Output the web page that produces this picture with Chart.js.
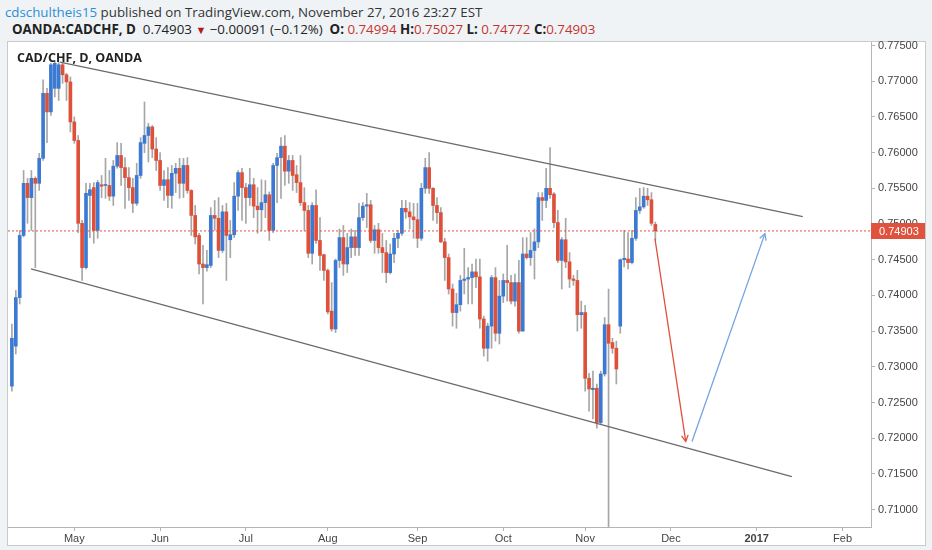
<!DOCTYPE html>
<html><head><meta charset="utf-8">
<script src="https://cdn.jsdelivr.net/npm/chart.js@4.4.0/dist/chart.umd.min.js"></script>
<style>
html,body{margin:0;padding:0;background:#f0f3f6;width:932px;height:550px;overflow:hidden;font-family:"Open Sans",sans-serif}
#h1{position:absolute;left:5px;top:3px;font-size:13.3px;color:#333;white-space:nowrap}
#h2{position:absolute;left:12px;top:20px;font-size:13.3px;color:#222;white-space:nowrap}
#h1 .u{color:#2b8fd6}
#h2 .r{color:#c3332f}
#h2 .t{color:#b01c1c;font-size:11px}
#panel{position:absolute;left:7px;top:41px;width:917px;height:503px;background:#fff;border:1px solid #c8cacc}
#wrap{position:absolute;left:0;top:0;width:932px;height:550px}
#legend{position:absolute;left:17px;top:49px;font-weight:bold;font-size:12.5px;color:#222}
</style>
</head><body>
<div id="h1"><span class="u">cdschultheis15</span> published on TradingView.com, November 27, 2016 23:27 EST</div>
<div id="h2"><b>OANDA:CADCHF, D</b>&nbsp; 0.74903 <span class="t">▼</span> −0.00091 (−0.12%) &nbsp;<b>O:</b> <span class="r">0.74994</span> <b>H:</b><span class="r">0.75027</span> <b>L:</b> <span class="r">0.74772</span> <b>C:</b><span class="r">0.74903</span></div>
<div id="panel"></div>
<div id="wrap"><canvas id="c" width="932" height="550"></canvas></div>
<div id="legend">CAD/CHF, D, OANDA</div>
<script>
const opens = [
.7273,.7329,.7397,.7484,.7557,.7537,.7564,.7557,.7592,.7683,
.7657,.7690,.7690,.7723,.7709,.7699,.7643,.7617,.7501,.7439,
.7540,.7551,.7491,.7555,.7554,.7554,.7539,.7581,.7596,.7579,
.7565,.7551,.7529,.7568,.7613,.7624,.7636,.7605,.7589,.7554,
.7562,.7540,.7571,.7578,.7557,.7582,.7547,.7512,.7484,.7444,
.7439,.7442,.7512,.7508,.7463,.7517,.7478,.7485,.7539,.7572,
.7551,.7537,.7555,.7525,.7520,.7530,.7541,.7491,.7582,.7593,
.7609,.7574,.7589,.7569,.7558,.7530,.7519,.7459,.7526,.7477,
.7457,.7435,.7378,.7353,.7449,.7481,.7444,.7467,.7482,.7467,
.7509,.7525,.7527,.7477,.7492,.7467,.7460,.7432,.7458,.7480,
.7487,.7522,.7517,.7510,.7506,.7480,.7550,.7579,.7550,.7526,
.7516,.7475,.7453,.7409,.7376,.7387,.7421,.7423,.7425,.7433,
.7426,.7367,.7326,.7357,.7425,.7347,.7399,.7421,.7418,.7392,
.7418,.7350,.7458,.7453,.7463,.7475,.7537,.7533,.7550,.7542,
.7502,.7449,.7478,.7447,.7423,.7421,.7373,.7376,.7284,.7268,
.7270,.7222,.7290,.7359,.7334,.7326,.7357,.7450,.7451,.7446,
.7480,.7519,.7524,.7539,.7534,.74994];
const highs = [
.7360,.7407,.7491,.7575,.7564,.7575,.7566,.7599,.7702,.7690,
.7725,.7728,.7726,.7726,.7711,.7706,.7650,.7624,.7505,.7557,
.7557,.7558,.7561,.7568,.7592,.7575,.7589,.7614,.7613,.7593,
.7579,.7564,.7585,.7621,.7671,.7641,.7638,.7621,.7600,.7575,
.7579,.7582,.7585,.7592,.7592,.7593,.7548,.7526,.7487,.7470,
.7463,.7523,.7533,.7537,.7526,.7529,.7505,.7558,.7575,.7578,
.7557,.7578,.7564,.7551,.7562,.7561,.7545,.7585,.7599,.7621,
.7624,.7596,.7596,.7582,.7596,.7551,.7526,.7530,.7548,.7509,
.7458,.7437,.7418,.7451,.7493,.7498,.7487,.7493,.7491,.7529,
.7530,.7543,.7533,.7498,.7501,.7487,.7477,.7472,.7487,.7491,
.7533,.7533,.7530,.7529,.7529,.7557,.7592,.7600,.7551,.7537,
.7523,.7480,.7458,.7416,.7403,.7428,.7466,.7439,.7444,.7451,
.7451,.7371,.7361,.7428,.7439,.7421,.7430,.7470,.7428,.7430,
.7449,.7481,.7481,.7488,.7493,.7544,.7544,.7578,.7607,.7544,
.7519,.7481,.7508,.7460,.7428,.7435,.7392,.7386,.7291,.7294,
.7276,.7294,.7369,.7409,.7340,.7336,.7451,.7491,.7488,.7491,
.7537,.7550,.7551,.7550,.7544,.75027];
const lows = [
.7266,.7318,.7388,.7482,.7501,.7491,.7439,.7547,.7589,.7614,
.7652,.7678,.7673,.7697,.7673,.7629,.7613,.7488,.7421,.7437,
.7481,.7473,.7480,.7537,.7536,.7533,.7526,.7578,.7554,.7522,
.7533,.7516,.7526,.7564,.7600,.7587,.7593,.7575,.7547,.7533,
.7523,.7522,.7544,.7536,.7537,.7543,.7484,.7472,.7430,.7388,
.7434,.7439,.7491,.7453,.7460,.7421,.7453,.7481,.7519,.7505,
.7501,.7526,.7509,.7487,.7491,.7509,.7477,.7488,.7530,.7536,
.7554,.7557,.7547,.7544,.7526,.7491,.7453,.7444,.7473,.7435,
.7421,.7374,.7350,.7348,.7439,.7428,.7432,.7453,.7456,.7456,
.7505,.7495,.7474,.7459,.7459,.7432,.7418,.7430,.7446,.7467,
.7484,.7508,.7493,.7480,.7467,.7477,.7543,.7543,.7505,.7501,
.7474,.7421,.7402,.7357,.7354,.7378,.7402,.7388,.7388,.7411,
.7354,.7315,.7308,.7326,.7336,.7332,.7390,.7392,.7388,.7385,
.7347,.7350,.7451,.7442,.7423,.7467,.7505,.7523,.7536,.7495,
.7446,.7409,.7439,.7411,.7414,.7350,.7354,.7266,.7238,.7227,
.7214,.7220,.7287,.7000,.7319,.7276,.7347,.7440,.7437,.7444,
.7477,.7515,.7522,.7526,.7498,.74772];
const closes = [
.7340,.7397,.7484,.7557,.7537,.7564,.7557,.7592,.7683,.7657,
.7723,.7725,.7723,.7709,.7699,.7643,.7617,.7501,.7439,.7543,
.7548,.7491,.7558,.7553,.7555,.7539,.7581,.7596,.7579,.7565,
.7551,.7529,.7568,.7614,.7624,.7636,.7605,.7589,.7554,.7562,
.7540,.7571,.7578,.7557,.7582,.7547,.7512,.7482,.7444,.7439,
.7443,.7512,.7508,.7463,.7517,.7484,.7485,.7539,.7572,.7551,
.7537,.7555,.7525,.7520,.7530,.7541,.7491,.7582,.7593,.7609,
.7574,.7589,.7568,.7558,.7530,.7519,.7459,.7526,.7477,.7456,
.7435,.7377,.7353,.7449,.7481,.7444,.7467,.7482,.7467,.7509,
.7525,.7527,.7477,.7492,.7467,.7460,.7432,.7458,.7480,.7487,
.7522,.7517,.7510,.7506,.7480,.7550,.7579,.7550,.7526,.7516,
.7475,.7453,.7409,.7376,.7387,.7421,.7423,.7425,.7433,.7426,
.7367,.7326,.7357,.7425,.7347,.7399,.7421,.7418,.7392,.7418,
.7350,.7458,.7453,.7463,.7475,.7537,.7533,.7550,.7541,.7502,
.7449,.7478,.7447,.7423,.7421,.7373,.7376,.7284,.7269,.7270,
.7222,.7290,.7359,.7333,.7326,.7297,.7450,.7452,.7446,.7480,
.7519,.7524,.7539,.7534,.7501,.74903];

const monthTickIdx = [16, 38, 60, 81, 104, 126, 147, 169, 191, 213];
const monthLabels = ["May","Jun","Jul","Aug","Sep","Oct","Nov","Dec","2017","Feb"];
const priceTicks = [0.710,0.715,0.720,0.725,0.730,0.735,0.740,0.745,0.750,0.755,0.760,0.765,0.770,0.775];
const lastPrice = 0.74903;
const upperChannel = [[12.3, 0.77268],[202.8, 0.75104]];
const lowerChannel = [[4.9, 0.74373],[200.0, 0.71463]];
const redArrow = [[164.9, 0.74794],[172.8, 0.71955]];
const blueArrow = [[174.4, 0.71955],[193.1, 0.74865]];

const X_MIN = -1, X_MAX = 220.3, Y_MIN = 0.70757, Y_MAX = 0.77549;
const UP = '#3b79d3', DOWN = '#df5039', WICK = '#a6a6a6';

const idx = opens.map((_, i) => i);
const wickData = idx.map(i => ({x: i, y: [lows[i], highs[i]]}));
const bodyData = idx.map(i => ({x: i, y: [opens[i], closes[i]]}));
const bodyColors = idx.map(i => closes[i] >= opens[i] ? UP : DOWN);
const pts = arr => arr.map(p => ({x: p[0], y: p[1]}));

const overlay = {
  id: 'overlay',
  afterDatasetsDraw(chart) {
    const {ctx, scales: {x, y}} = chart;
    function head(seg, color) {
      const x0 = x.getPixelForValue(seg[0][0]), y0 = y.getPixelForValue(seg[0][1]);
      const x1 = x.getPixelForValue(seg[1][0]), y1 = y.getPixelForValue(seg[1][1]);
      const a = Math.atan2(y1 - y0, x1 - x0), L = 7, w = 0.5;
      ctx.save();
      ctx.strokeStyle = color; ctx.lineWidth = 1.3;
      ctx.beginPath();
      ctx.moveTo(x1 - L * Math.cos(a - w), y1 - L * Math.sin(a - w));
      ctx.lineTo(x1, y1);
      ctx.lineTo(x1 - L * Math.cos(a + w), y1 - L * Math.sin(a + w));
      ctx.stroke();
      ctx.restore();
    }
    head(redArrow, DOWN);
    head(blueArrow, '#76a3df');
  },
  afterDraw(chart) {
    const {ctx, chartArea, scales: {y}} = chart;
    const py = Math.round(y.getPixelForValue(lastPrice));
    ctx.save();
    ctx.fillStyle = '#e0523d';
    ctx.fillRect(chartArea.right, py - 8, 54, 16);
    ctx.fillStyle = '#ffffff';
    ctx.font = '11px "Liberation Sans", Arial, sans-serif';
    ctx.textAlign = 'left'; ctx.textBaseline = 'middle';
    ctx.fillText(lastPrice.toFixed(5), chartArea.right + 8, py + 0.5);
    ctx.restore();
  }
};

new Chart(document.getElementById('c'), {
  data: {
    datasets: [
      {type: 'bar', data: wickData, backgroundColor: WICK, barThickness: 1, grouped: false, order: 4, minBarLength: 1},
      {type: 'bar', data: bodyData, backgroundColor: bodyColors, barThickness: 3, grouped: false, order: 3, minBarLength: 1},
      {type: 'line', data: [{x: X_MIN, y: lastPrice}, {x: X_MAX, y: lastPrice}], borderColor: '#e0523d', borderWidth: 1, borderDash: [2, 2], pointRadius: 0, order: 2},
      {type: 'line', data: pts(upperChannel), borderColor: '#6b6b6b', borderWidth: 1.3, pointRadius: 0, order: 1},
      {type: 'line', data: pts(lowerChannel), borderColor: '#6b6b6b', borderWidth: 1.3, pointRadius: 0, order: 1},
      {type: 'line', data: pts(redArrow), borderColor: DOWN, borderWidth: 1.3, pointRadius: 0, order: 0},
      {type: 'line', data: pts(blueArrow), borderColor: '#76a3df', borderWidth: 1.3, pointRadius: 0, order: 0}
    ]
  },
  options: {
    responsive: false,
    animation: false,
    events: [],
    layout: {padding: {left: 8, top: 42, right: 7, bottom: 5}},
    plugins: {legend: {display: false}, tooltip: {enabled: false}},
    scales: {
      x: {
        type: 'linear', min: X_MIN, max: X_MAX, offset: false,
        afterFit: s => { s.height = 18; },
        afterBuildTicks: s => { s.ticks = monthTickIdx.map(v => ({value: v})); },
        ticks: {
          autoSkip: false, maxRotation: 0, padding: 1, color: '#444',
          callback: (v, i) => monthLabels[i],
          font: ctx => ({family: '"Liberation Sans", Arial, sans-serif', size: 11, weight: (ctx.tick && ctx.tick.value === 191) ? 'bold' : 'normal'})
        },
        grid: {display: true, offset: false, drawOnChartArea: false, drawTicks: true, tickLength: 4, color: '#b5b5b5'},
        border: {display: true, color: '#b5b5b5'}
      },
      y: {
        type: 'linear', position: 'right', min: Y_MIN, max: Y_MAX,
        afterFit: s => { s.width = 54; },
        afterBuildTicks: s => { s.ticks = priceTicks.map(v => ({value: v})); },
        ticks: {
          padding: 3, color: '#444',
          callback: v => v.toFixed(5),
          font: {family: '"Liberation Sans", Arial, sans-serif', size: 11}
        },
        grid: {display: true, drawOnChartArea: false, drawTicks: true, tickLength: 4, color: '#b5b5b5'},
        border: {display: true, color: '#b5b5b5'}
      }
    }
  },
  plugins: [overlay]
});
</script>
</body></html>
